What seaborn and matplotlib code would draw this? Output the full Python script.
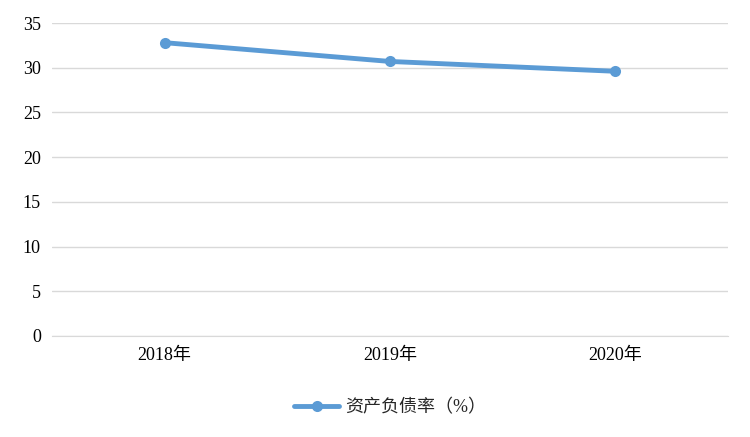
import matplotlib
matplotlib.use("Agg")
import matplotlib.pyplot as plt
import seaborn as sns
import pandas as pd

years = ["2018年", "2019年", "2020年"]
debt_ratio = [32.8, 30.7, 29.6]
series_name = "资产负债率（%）"

df = pd.DataFrame({"year": years, "value": debt_ratio, "series": series_name})

sns.set_style("white")
plt.rcParams['font.family'] = ['Liberation Serif', 'Noto Sans CJK SC']

fig = plt.figure(figsize=(7.5, 4.37), dpi=100)
ax = fig.add_axes([52 / 750, 1 - 336 / 437, 676 / 750, 313 / 437])

sns.lineplot(data=df, x="year", y="value", hue="series", palette=["#5b9bd5"],
             marker="o", markersize=8, linewidth=3.5, markeredgewidth=0,
             sort=False, ax=ax)

ax.set_ylim(0, 35)
ax.set_xlim(-0.5, 2.5)
ax.set_yticks(range(0, 36, 5))
ax.yaxis.grid(True, color="#d9d9d9", linewidth=1)
ax.set_axisbelow(True)
for side in ["top", "right", "left"]:
    ax.spines[side].set_visible(False)
ax.spines["bottom"].set_color("#d9d9d9")
ax.tick_params(axis="both", length=0, labelsize=13, colors="#000000", pad=8)
ax.set_xlabel("")
ax.set_ylabel("")

ax.legend(loc="upper center", bbox_to_anchor=(0.5, -0.15), frameon=False,
          fontsize=13, handlelength=2.5, handletextpad=0.3)

fig.savefig("out.png", dpi=100)
